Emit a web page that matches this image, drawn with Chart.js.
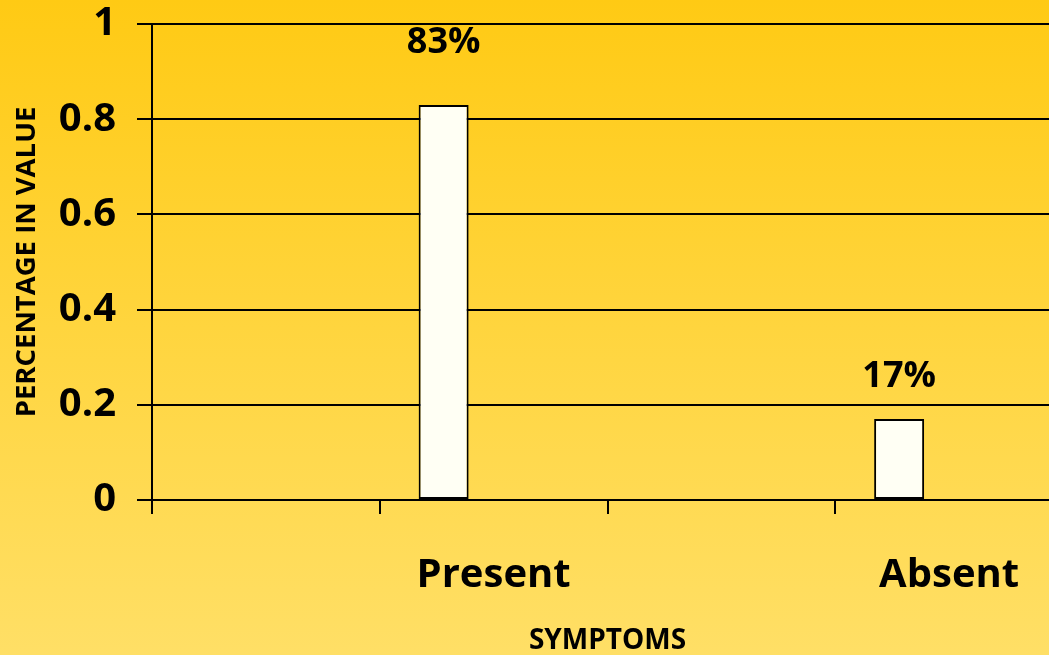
<!DOCTYPE html>
<html>
<head>
<meta charset="utf-8">
<script src="https://cdn.jsdelivr.net/npm/chart.js@4"></script>
<style>
  html, body { margin: 0; padding: 0; overflow: hidden; }
  body {
    width: 1049px; height: 655px;
    background: linear-gradient(to bottom, #ffca14 0%, #ffd53e 50%, #ffdf66 100%);
  }
  #wrap { width: 1075px; height: 655px; }
</style>
</head>
<body>
<div id="wrap"><canvas id="canvas" width="1075" height="655"></canvas></div>
<script>
// chart values
var categories = ['', 'Present', '', 'Absent'];
var symptomValues = [null, 0.83, null, 0.17];
var emptySeries = [null, null, null, null];
var yTicks = [0, 0.2, 0.4, 0.6, 0.8, 1];

var FONT = "'Open Sans', 'DejaVu Sans', sans-serif";

// percent labels over the bars
var barLabels = {
    id: 'barLabels',
    afterDatasetsDraw: function(chart, args, opts) {
        var ctx = chart.ctx;
        var meta = chart.getDatasetMeta(0);
        ctx.save();
        ctx.font = 'bold 36px ' + FONT;
        ctx.fillStyle = '#000';
        ctx.textAlign = 'center';
        ctx.textBaseline = 'middle';
        meta.data.forEach(function(bar, i) {
            var v = symptomValues[i];
            if (v === null) return;
            var off = opts.offsets[i] || 50;
            ctx.fillText(Math.round(v * 100) + '%', bar.x, bar.y - off);
        });
        ctx.restore();
    }
};

var ctx = document.getElementById('canvas').getContext('2d');
var myChart = new Chart(ctx, {
    type: 'bar',
    data: {
        labels: categories,
        datasets: [{
            label: 'Symptoms',
            data: symptomValues,
            backgroundColor: '#fffff4',
            borderColor: '#000',
            borderWidth: 2,
            borderSkipped: false
        }, {
            label: 'blank',
            data: emptySeries
        }]
    },
    options: {
        responsive: false,
        animation: false,
        layout: { padding: { top: 24, left: 0, right: 12, bottom: 0 } },
        datasets: {
            bar: { categoryPercentage: 0.878, barPercentage: 0.5 }
        },
        plugins: {
            legend: { display: false },
            tooltip: { enabled: false },
            barLabels: { offsets: [0, 62, 0, 42] }
        },
        scales: {
            x: {
                afterFit: function(s) {
                    s.height = 155;
                    s.paddingLeft = 0;
                    s.paddingRight = 0;
                },
                grid: {
                    drawOnChartArea: false,
                    tickLength: 14,
                    color: '#000',
                    lineWidth: 2
                },
                border: { display: true, color: '#000', width: 2 },
                ticks: {
                    padding: 38,
                    color: '#000',
                    font: { family: FONT, size: 40, weight: 'bold' }
                },
                title: {
                    display: true,
                    text: 'SYMPTOMS',
                    color: '#000',
                    padding: { top: 0, bottom: 0 },
                    font: { family: FONT, size: 28, weight: 'bold', lineHeight: 1.0 }
                }
            },
            y: {
                min: 0,
                max: 1,
                afterFit: function(s) {
                    s.width = 152;
                    s.paddingTop = 0;
                    s.paddingBottom = 0;
                },
                afterBuildTicks: function(s) {
                    s.ticks = yTicks.map(function(v) { return { value: v }; });
                },
                grid: {
                    color: '#000',
                    lineWidth: 2,
                    tickLength: 15
                },
                border: { display: true, color: '#000', width: 2 },
                ticks: {
                    padding: 21,
                    color: '#000',
                    font: { family: FONT, size: 40, weight: 'bold' },
                    callback: function(v) { return String(v); }
                },
                title: {
                    display: true,
                    text: 'PERCENTAGE IN VALUE',
                    color: '#000',
                    padding: { top: 11, bottom: 0 },
                    font: { family: FONT, size: 27.5, weight: 'bold' }
                }
            }
        }
    },
    plugins: [barLabels]
});
</script>
</body>
</html>
